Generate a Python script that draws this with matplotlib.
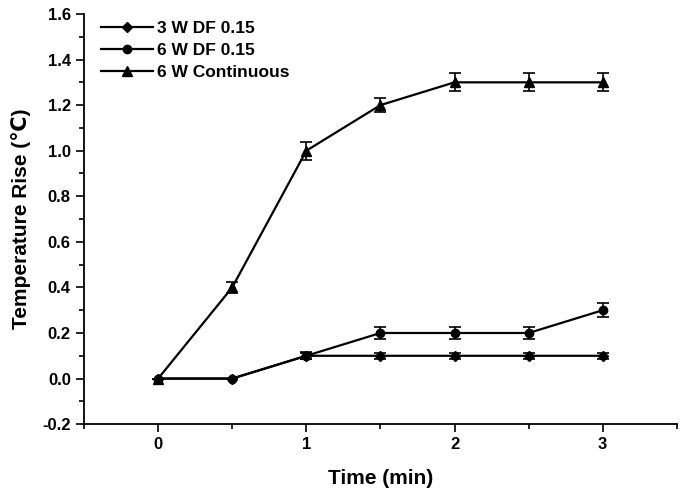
import numpy as np
import matplotlib.pyplot as plt
from matplotlib.ticker import MultipleLocator

plt.rcParams['font.family'] = ['Liberation Sans', 'DejaVu Sans']
plt.rcParams['font.weight'] = 'bold'

# Data
time_min = [0, 0.5, 1, 1.5, 2, 2.5, 3]
series_names = ["3 W DF 0.15", "6 W DF 0.15", "6 W Continuous"]
rise_3w_df = [0, 0, 0.1, 0.1, 0.1, 0.1, 0.1]
err_3w_df = [0, 0, 0.012, 0.012, 0.012, 0.012, 0.012]
rise_6w_df = [0, 0, 0.1, 0.2, 0.2, 0.2, 0.3]
err_6w_df = [0, 0, 0.015, 0.025, 0.025, 0.025, 0.03]
rise_6w_cont = [0, 0.4, 1.0, 1.2, 1.3, 1.3, 1.3]
err_6w_cont = [0, 0.025, 0.04, 0.03, 0.04, 0.04, 0.04]

fig = plt.figure(figsize=(6.83, 4.99), dpi=100)
ax = fig.add_axes([0.123, 0.150, 0.868, 0.822])

style = dict(color="black", linewidth=1.6, capsize=4, elinewidth=1.2, capthick=1.2)
e1 = ax.errorbar(time_min, rise_3w_df, yerr=err_3w_df, marker="D", markersize=5, **style)
e2 = ax.errorbar(time_min, rise_6w_df, yerr=err_6w_df, marker="o", markersize=6, **style)
e3 = ax.errorbar(time_min, rise_6w_cont, yerr=err_6w_cont, marker="^", markersize=6.5, **style)

ax.set_xlim(-0.5, 3.5)
ax.set_ylim(-0.2, 1.6)
ax.xaxis.set_major_locator(MultipleLocator(1))
ax.xaxis.set_minor_locator(MultipleLocator(0.5))
ax.yaxis.set_major_locator(MultipleLocator(0.2))
ax.yaxis.set_minor_locator(MultipleLocator(0.1))
ax.yaxis.set_major_formatter(plt.FuncFormatter(lambda v, p: f"{v:.1f}"))

ax.spines["top"].set_visible(False)
ax.spines["right"].set_visible(False)
for s in ["left", "bottom"]:
    ax.spines[s].set_linewidth(1.3)
ax.tick_params(which="major", direction="out", length=6, width=1.2, labelsize=12)
ax.tick_params(which="minor", direction="out", length=3.5, width=1.2)
for lbl in ax.get_xticklabels() + ax.get_yticklabels():
    lbl.set_fontweight("bold")

ax.set_xlabel("Time (min)", fontsize=15, fontweight="bold", labelpad=12)
ax.set_ylabel("Temperature Rise (℃)", fontsize=15, fontweight="bold", labelpad=8)

# legend without the error bars in the handles
ax.legend([e1[0], e2[0], e3[0]], series_names, loc="upper left", bbox_to_anchor=(0.0, 1.025), frameon=False,
          prop={"size": 12.5, "weight": "bold"}, handlelength=3.0,
          handletextpad=0.2, labelspacing=0.4, borderaxespad=0.6)

fig.savefig("out.png", dpi=100)
